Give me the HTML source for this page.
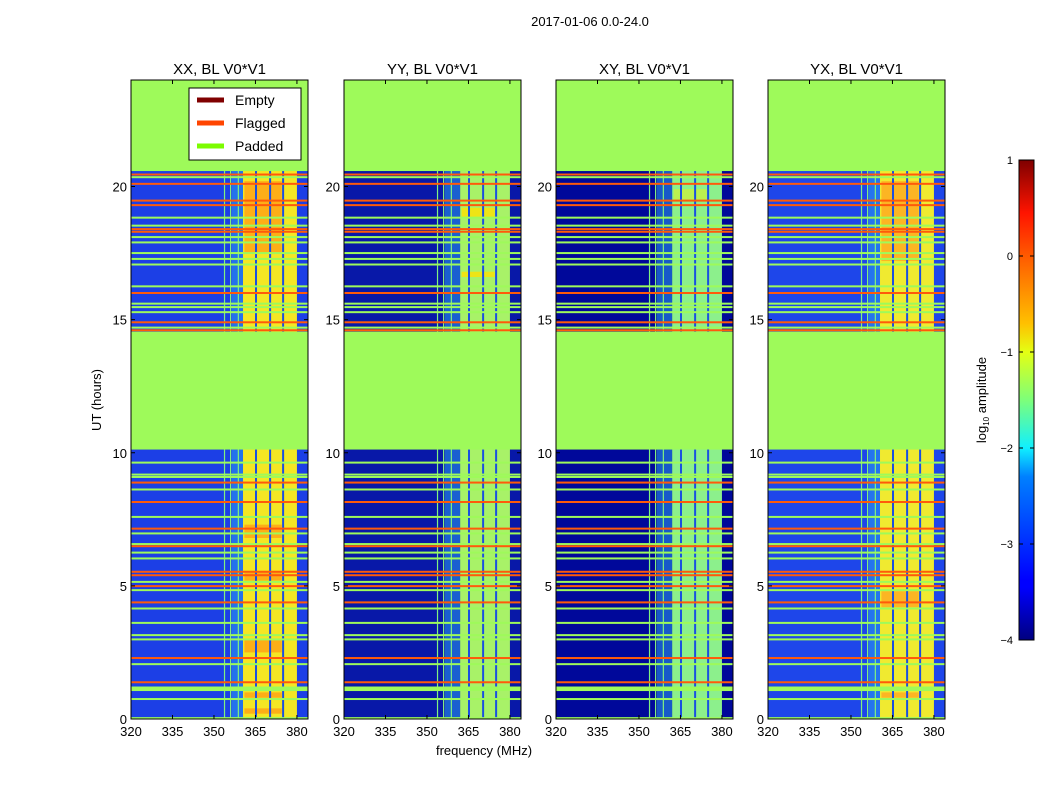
<!DOCTYPE html>
<html><head><meta charset="utf-8">
<style>
body{margin:0;background:#fff;font-family:"Liberation Sans","DejaVu Sans",sans-serif;}
svg text{font-family:"Liberation Sans","DejaVu Sans",sans-serif;}
</style></head>
<body>
<svg id="fig" width="1050" height="800" viewBox="0 0 1050 800" xmlns="http://www.w3.org/2000/svg">
<defs>
<linearGradient id="jet" x1="0" y1="1" x2="0" y2="0">
<stop offset="0" stop-color="#00007f"/><stop offset="0.11" stop-color="#0000ff"/>
<stop offset="0.125" stop-color="#0000ff"/><stop offset="0.34" stop-color="#0080ff"/>
<stop offset="0.40" stop-color="#10f0ff"/><stop offset="0.5" stop-color="#7dff7a"/>
<stop offset="0.6" stop-color="#e4ff13"/><stop offset="0.66" stop-color="#ffc000"/>
<stop offset="0.8" stop-color="#ff5a00"/><stop offset="0.89" stop-color="#ff1400"/>
<stop offset="1" stop-color="#7f0000"/>
</linearGradient>
</defs>
<text x="590" y="26" font-size="13" text-anchor="middle">2017-01-06 0.0-24.0</text>
<g id="panels"></g>
<text transform="translate(101,400) rotate(-90)" font-size="13" text-anchor="middle">UT (hours)</text>
<text x="484" y="755" font-size="13" text-anchor="middle">frequency (MHz)</text>
<g>
<rect x="189" y="88" width="112" height="72" fill="#fff" stroke="#000" stroke-width="1"/>
<line x1="197" y1="100" x2="224" y2="100" stroke="#800000" stroke-width="5"/>
<text x="235" y="105" font-size="14">Empty</text>
<line x1="197" y1="123" x2="224" y2="123" stroke="#ff4500" stroke-width="5"/>
<text x="235" y="128" font-size="14">Flagged</text>
<line x1="197" y1="146" x2="224" y2="146" stroke="#7cfc00" stroke-width="5"/>
<text x="235" y="151" font-size="14">Padded</text>
</g>
<g>
<rect x="1019" y="160" width="15" height="480" fill="url(#jet)" stroke="#000" stroke-width="1"/>
<g id="cbticks"></g>
<text transform="translate(986,400) rotate(-90)" font-size="13" text-anchor="middle">log<tspan font-size="8" dy="3">10</tspan><tspan dy="-3"> amplitude</tspan></text>
</g>
</svg>
<script>
const panelTitles=["XX, BL V0*V1","YY, BL V0*V1","XY, BL V0*V1","YX, BL V0*V1"];
const panelLeft=[131,344,556,768];
const bgColors=["#1c3fe6","#0818a8","#00089a","#1e46ea"];
const bandColors=["#f4e624","#a8f268","#8cf08c","#f0ea30"];
const bandStart=[360.5,362,362,360.5];
const bandEnd=[380,380,380,380];
const hotColors=["#ffa014","#ffe000","#c8f040","#ffa820"];
const freqTicks=[320,335,350,365,380];
const timeTicks=[0,5,10,15,20];
const paddedBlocks=[[0,0.07],[1.05,1.22],[10.12,14.55],[20.58,24]];
const paddedLines=[0.75,2.06,2.99,3.15,3.61,4.15,4.84,5.15,6.03,6.25,6.57,6.97,7.59,8.62,9.09,9.18,9.63,14.7,15.28,15.47,15.6,16.25,17.07,17.28,17.5,17.9,18.1,18.53,18.83,20.35];
const flaggedLines=[1.38,2.29,4.38,4.99,5.4,5.53,6.49,7.15,8.15,8.88,14.6,14.9,16.0,18.3,18.4,19.3,19.47,20.1,20.45];
const vertLines=[353.6,355.8,358.6];
const darkCols=[365.2,370.3,375];
const hotSpans=[[[2.5,3],[5.2,5.5],[6.8,7.3],[0.8,1],[17.5,20.2],[0.2,0.4]],[[16.6,16.8],[18.8,19.2]],[[19.5,19.9]],[[4.2,4.8],[0.8,1],[17.2,20.2]]];
const cbVals=[1,0,-1,-2,-3,-4];
const NS="http://www.w3.org/2000/svg";
const W=177,TOP=80,BOT=719;
function mk(tag,attrs,parent){const e=document.createElementNS(NS,tag);for(const k in attrs)e.setAttribute(k,attrs[k]);parent.appendChild(e);return e;}
function yS(t){return BOT-(t/24)*(BOT-TOP);}
const g=document.getElementById('panels');
panelTitles.forEach((title,i)=>{
 const L=panelLeft[i];
 const xS=f=>L+(f-320)*(W/64);
 const pg=mk('g',{},g);
 
 
 const bg=mk('rect',{x:L,y:TOP,width:W,height:BOT-TOP,fill:bgColors[i]},pg);
 
 
 mk('rect',{x:xS(356.5),y:TOP,width:xS(bandStart[i])-xS(356.5),height:BOT-TOP,fill:"#2a9cf0",opacity:0.55},pg);
 const band=mk('rect',{x:xS(bandStart[i]),y:TOP,width:xS(bandEnd[i])-xS(bandStart[i]),height:BOT-TOP,fill:bandColors[i]},pg);
 
 
 hotSpans[i].forEach(s=>{
  const r=mk('rect',{x:xS(bandStart[i]+0.5),y:yS(s[1]),width:xS(374.5)-xS(bandStart[i]+0.5),height:yS(s[0])-yS(s[1]),fill:hotColors[i],opacity:0.8},pg);
  
  
 });
 darkCols.forEach(f=>{
  const r=mk('rect',{x:xS(f)-1,y:TOP,width:2,height:BOT-TOP,fill:"#1a50e0"},pg);
  
  
 });
 vertLines.forEach(f=>{
  const r=mk('rect',{x:xS(f),y:TOP,width:1.2,height:BOT-TOP,fill:"#80f080"},pg);
  
  
 });
 paddedLines.forEach(t=>{
  const r=mk('rect',{x:L,y:yS(t)-1,width:W,height:2,fill:"#9efa5a"},pg);
  
  
 });
 flaggedLines.forEach(t=>{
  const r=mk('rect',{x:L,y:yS(t)-1,width:W,height:2,fill:"#ff5a0a"},pg);
  
  
 });
 paddedBlocks.forEach(b=>{
  const r=mk('rect',{x:L,y:yS(b[1]),width:W,height:yS(b[0])-yS(b[1]),fill:"#9efa5a"},pg);
  
  
 });
 mk('rect',{x:L,y:TOP,width:W,height:BOT-TOP,fill:"none",stroke:"#000","stroke-width":1},pg);
 const tt=mk('text',{x:L+W/2,y:74,"font-size":15,"text-anchor":"middle"},pg);
 tt.textContent=title;
 
 
 freqTicks.forEach(f=>{
  const x=xS(f);
  mk('line',{x1:x,y1:BOT,x2:x,y2:BOT-4,stroke:"#000"},pg);
  mk('line',{x1:x,y1:TOP,x2:x,y2:TOP+4,stroke:"#000"},pg);
  const t=mk('text',{x:x,y:BOT+17,"font-size":13,"text-anchor":"middle"},pg);
  t.textContent=f;
  
  
 });
 timeTicks.forEach(v=>{
  const y=yS(v);
  mk('line',{x1:L,y1:y,x2:L+4,y2:y,stroke:"#000"},pg);
  mk('line',{x1:L+W,y1:y,x2:L+W-4,y2:y,stroke:"#000"},pg);
  const t=mk('text',{x:L-4,y:y+5,"font-size":13,"text-anchor":"end"},pg);
  t.textContent=v;
  
  
 });
});
const cb=document.getElementById('cbticks');
cbVals.forEach(v=>{
 const y=160+(1-v)/5*480;
 mk('line',{x1:1019,y1:y,x2:1023,y2:y,stroke:"#000"},cb);
 mk('line',{x1:1034,y1:y,x2:1030,y2:y,stroke:"#000"},cb);
 const t=mk('text',{x:1013,y:y+4,"font-size":11,"text-anchor":"end"},cb);
 t.textContent=v<0?"\u2212"+(-v):v;
 
 
});
</script>
</body></html>
